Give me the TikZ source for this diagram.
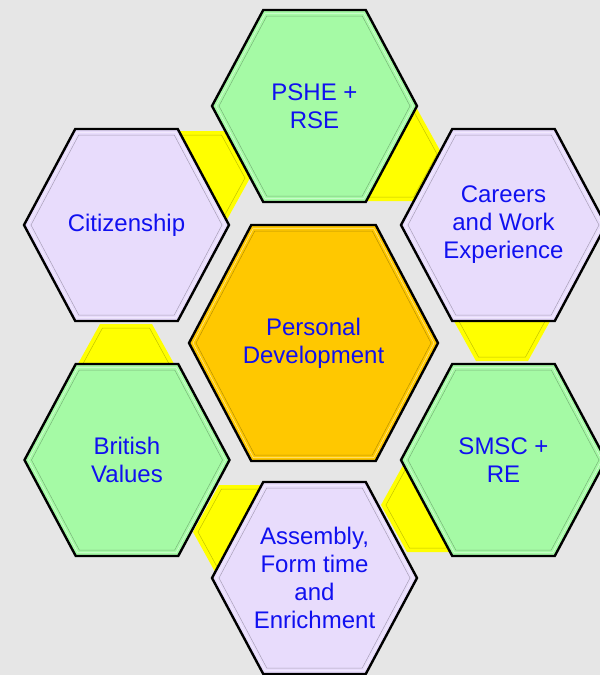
\documentclass[tikz,border=0pt]{standalone}
\usepackage{fontspec}
\setmainfont{Liberation Sans}
\definecolor{bg}{RGB}{230,230,230}
\definecolor{hgreen}{RGB}{165,250,165}
\definecolor{hlav}{RGB}{232,220,252}
\definecolor{horange}{RGB}{255,200,0}
\definecolor{hyellow}{RGB}{255,255,0}
\definecolor{htext}{RGB}{16,16,240}
% outer hexagon with black border and inner bevel line: cx cy a b colour
\newcommand{\bighex}[5]{%
  \path[fill=#5, draw=black, line width=2.4pt, line join=miter]
    (#1-#3,#2) -- (#1-#3/2,#2-#4) -- (#1+#3/2,#2-#4) -- (#1+#3,#2)
    -- (#1+#3/2,#2+#4) -- (#1-#3/2,#2+#4) -- cycle;
  \path[draw=#5!50!black, line width=0.5pt, opacity=0.55]
    (#1-#3+7,#2) -- (#1-#3/2+3.5,#2-#4+6) -- (#1+#3/2-3.5,#2-#4+6) -- (#1+#3-7,#2)
    -- (#1+#3/2-3.5,#2+#4-6) -- (#1-#3/2+3.5,#2+#4-6) -- cycle;
  \path[draw=white, line width=0.5pt, opacity=0.6]
    (#1-#3+4,#2) -- (#1-#3/2+2,#2-#4+3.5) -- (#1+#3/2-2,#2-#4+3.5) -- (#1+#3-4,#2)
    -- (#1+#3/2-2,#2+#4-3.5) -- (#1-#3/2+2,#2+#4-3.5) -- cycle;
}
% small yellow hexagon: cx cy
\newcommand{\yhex}[2]{%
  \path[fill=hyellow]
    (#1-52,#2) -- (#1-26,#2-47) -- (#1+26,#2-47) -- (#1+52,#2)
    -- (#1+26,#2+47) -- (#1-26,#2+47) -- cycle;
  \path[draw=hyellow!60!black, line width=0.5pt, opacity=0.6]
    (#1-47,#2) -- (#1-23.5,#2-43) -- (#1+23.5,#2-43) -- (#1+47,#2)
    -- (#1+23.5,#2+43) -- (#1-23.5,#2+43) -- cycle;
}
\tikzset{lbl/.style={text=htext, align=center, inner sep=0pt,
  font=\fontsize{24}{28}\selectfont}}
\begin{document}
\begin{tikzpicture}[x=1pt, y=-1pt]
\useasboundingbox (0,0) rectangle (600,675);
\fill[bg] (0,0) rectangle (600,675);
\clip (0,0) rectangle (600,675);
% yellow linking hexagons (behind)
\yhex{198}{178}
\yhex{390}{154}
\yhex{502}{314}
\yhex{433}{505}
\yhex{245}{532}
\yhex{126}{371}
% centre
\bighex{313.5}{343}{124.5}{118}{horange}
% outer ring
\bighex{314.5}{106}{102.5}{96}{hgreen}
\bighex{503.5}{225}{102.5}{96}{hlav}
\bighex{503.5}{460}{102.5}{96}{hgreen}
\bighex{314.5}{578}{102.5}{96}{hlav}
\bighex{127}{460}{102.5}{96}{hgreen}
\bighex{126.5}{225}{102.5}{96}{hlav}
% labels
\node[lbl] (pd) at (313.5,343) {Personal\\Development};
\node[lbl] (pshe) at (314.5,106) {PSHE +\\RSE};
\node[lbl] (careers) at (503.5,225) {Careers\\and Work\\Experience};
\node[lbl] (smsc) at (503.5,460) {SMSC +\\RE};
\node[lbl] (assembly) at (314.5,578) {Assembly,\\Form time\\and\\Enrichment};
\node[lbl] (british) at (127,460) {British\\Values};
\node[lbl] (citizen) at (126.5,225) {Citizenship};
\end{tikzpicture}
\end{document}
